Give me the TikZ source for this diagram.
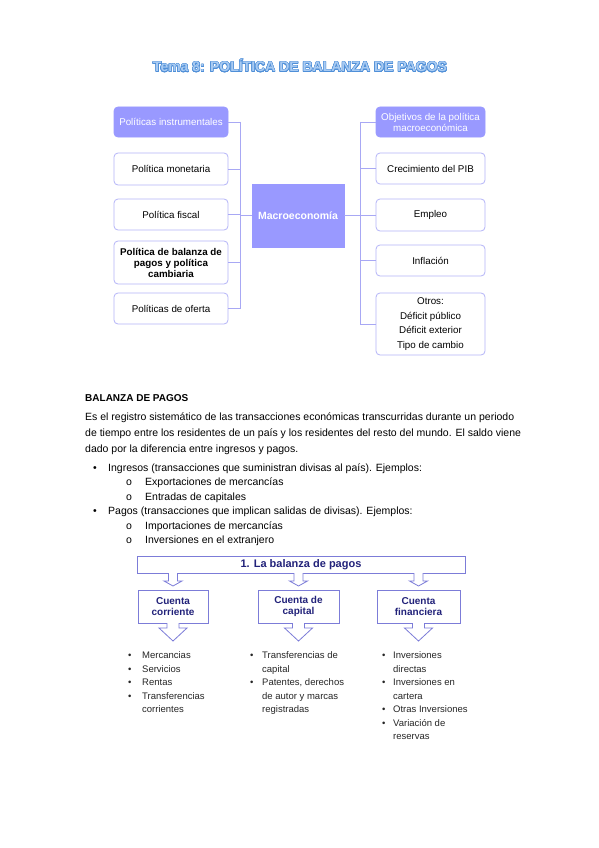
\documentclass[tikz,border=0pt]{standalone}
\usepackage{fontspec}
\setmainfont{Liberation Sans}
\usepackage[copies]{contour}
\usetikzlibrary{positioning}

\definecolor{headfill}{HTML}{9999FF}
\definecolor{boxline}{HTML}{B4B4F8}
\definecolor{linkcol}{HTML}{A8A8F4}
\definecolor{bpline}{HTML}{7C7CD8}
\definecolor{bptext}{HTML}{22227A}
\definecolor{titlefill}{HTML}{A9CBF2}
\definecolor{titleline}{HTML}{4F8FD8}
\contourlength{0.45pt}
\contournumber{20}

\begin{document}
\begin{tikzpicture}[
    x=1pt, y=-1pt,
    box/.style={
        draw=boxline,
        fill=white,
        line width=0.8pt,
        rectangle,
        rounded corners=4pt,
        align=center,
        inner sep=2pt,
        outer sep=0pt,
        font=\fontsize{9.8}{11}\selectfont
    },
    lbox/.style={box, minimum width=114pt},
    rbox/.style={box, minimum width=109pt},
    headbox/.style={fill=headfill, draw=headfill, text=white},
    link/.style={draw=linkcol, line width=0.8pt},
    bpbox/.style={
        draw=bpline,
        fill=white,
        line width=0.8pt,
        align=center,
        inner sep=1pt,
        outer sep=0pt,
        text=bptext,
        font=\bfseries\fontsize{10}{11}\selectfont
    },
    bparrow/.style={draw=bpline, line width=0.8pt, fill=white},
    bplist/.style={
        anchor=north west,
        inner sep=0pt,
        text=black!85,
        font=\fontsize{9.5}{13.5}\selectfont
    }
]
\fill[white] (0,0) rectangle (599,848);
\useasboundingbox (0,0) rectangle (599,848);

% title
\node (title) at (300,66) {\fontsize{14}{16}\selectfont\bfseries
    \contour{titleline}{\textcolor{titlefill}{Tema 8: POLÍTICA DE BALANZA DE PAGOS}}};

% left column
\node[lbox, headbox, minimum height=30pt] (L1) at (171,122) {Políticas instrumentales};
\node[lbox, minimum height=32pt, below=16pt of L1] (L2) {Política monetaria};
\node[lbox, minimum height=31pt, below=14pt of L2] (L3) {Política fiscal};
\node[lbox, minimum height=43pt, below=11pt of L3, font=\bfseries\fontsize{9.8}{11}\selectfont] (L4) {Política de balanza de\\pagos y política\\cambiaria};
\node[lbox, minimum height=31pt, below=9pt of L4] (L5) {Políticas de oferta};

% centre
\node[box, headbox, rounded corners=0pt, minimum width=92pt, minimum height=63pt,
      font=\bfseries\fontsize{10.5}{12}\selectfont] (macro) at (298,215.5) {Macroeconomía};

% right column
\node[rbox, headbox, minimum height=30pt] (R1) at (430.5,122) {Objetivos de la política\\macroeconómica};
\node[rbox, minimum height=31pt, below=16pt of R1] (R2) {Crecimiento del PIB};
\node[rbox, minimum height=32pt, below=15pt of R2] (R3) {Empleo};
\node[rbox, minimum height=31pt, below=14pt of R3] (R4) {Inflación};
\node[rbox, minimum height=62pt, below=17pt of R4, font=\fontsize{9.8}{14.5}\selectfont] (R5) {Otros:\\Déficit público\\Déficit exterior\\Tipo de cambio};

\coordinate (lbus) at (240,0);
\coordinate (rbus) at (360,0);

\draw[link] (L1.east -| lbus) -- (L5.east -| lbus);
\foreach \n in {L1,L2,L3,L4,L5}
    \draw[link] (\n.east) -- (\n.east -| lbus);
\draw[link] (lbus |- macro.west) -- (macro.west);

\draw[link] (R1.west -| rbus) -- (R5.west -| rbus);
\foreach \n in {R1,R2,R3,R4,R5}
    \draw[link] (\n.west) -- (\n.west -| rbus);
\draw[link] (macro.east) -- (macro.east -| rbus);

% text block
\node[anchor=base west, inner sep=0pt, font=\bfseries\fontsize{10}{12}\selectfont] (bphead) at (85,401) {BALANZA DE PAGOS};
\node[anchor=north west, inner sep=0pt, align=left, font=\fontsize{10.5}{16}\selectfont] (bpdef) at (85,413)
    {Es el registro sistemático de las transacciones económicas transcurridas durante un periodo\\
     de tiempo entre los residentes de un país y los residentes del resto del mundo. El saldo viene\\
     dado por la diferencia entre ingresos y pagos.};
\node[anchor=north west, inner sep=0pt, font=\fontsize{10.5}{14.5}\selectfont] (bpitems) at (93,461) {%
    \begin{tabular}{@{}p{15pt}@{}p{18pt}@{}p{19pt}@{}l@{}}
    \textbullet & \multicolumn{3}{@{}l@{}}{Ingresos (transacciones que suministran divisas al país). Ejemplos:}\\
     & & o & Exportaciones de mercancías\\
     & & o & Entradas de capitales\\
    \textbullet & \multicolumn{3}{@{}l@{}}{Pagos (transacciones que implican salidas de divisas). Ejemplos:}\\
     & & o & Importaciones de mercancías\\
     & & o & Inversiones en el extranjero
    \end{tabular}};

% balanza de pagos scheme
\node[bpbox, minimum width=328pt, minimum height=17pt, font=\bfseries\fontsize{11}{12}\selectfont] (lbp) at (301,564.5) {1. La balanza de pagos};
\node[bpbox, minimum width=70pt, minimum height=33pt] (c1) at (173,606.5) {Cuenta\\corriente};
\node[bpbox, minimum width=81pt, minimum height=33pt] (c2) at (298.5,606.5) {Cuenta de\\capital};
\node[bpbox, minimum width=83pt, minimum height=33pt] (c3) at (418.5,606.5) {Cuenta\\financiera};

\foreach \c in {c1,c2,c3} {
    \draw[bparrow, shift={(\c.north |- lbp.south)}]
        (-4.5,0) -- (-4.5,8) -- (-9,8) -- (0,13) -- (9,8) -- (4.5,8) -- (4.5,0);
    \draw[bparrow, shift={(\c.south)}]
        (-6,0) -- (-6,5) -- (-14,5) -- (0,18) -- (14,5) -- (6,5) -- (6,0);
}

\node[bplist] (c1list) at (128,649) {%
    \begin{tabular}{@{}p{14pt}@{}l@{}}
    \textbullet & Mercancias\\
    \textbullet & Servicios\\
    \textbullet & Rentas\\
    \textbullet & Transferencias\\
     & corrientes
    \end{tabular}};
\node[bplist] (c2list) at (250,649) {%
    \begin{tabular}{@{}p{12pt}@{}l@{}}
    \textbullet & Transferencias de\\
     & capital\\
    \textbullet & Patentes, derechos\\
     & de autor y marcas\\
     & registradas
    \end{tabular}};
\node[bplist] (c3list) at (382,649) {%
    \begin{tabular}{@{}p{11pt}@{}l@{}}
    \textbullet & Inversiones\\
     & directas\\
    \textbullet & Inversiones en\\
     & cartera\\
    \textbullet & Otras Inversiones\\
    \textbullet & Variación de\\
     & reservas
    \end{tabular}};

\end{tikzpicture}
\end{document}
